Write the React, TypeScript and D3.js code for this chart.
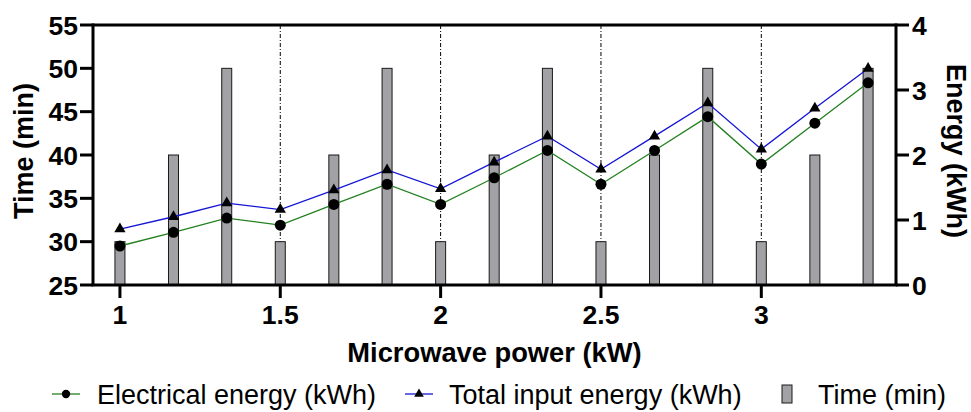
import React from "react";
import * as d3 from "d3";

// Microwave power levels (kW)
const power = [1, 1.167, 1.333, 1.5, 1.667, 1.833, 2, 2.167, 2.333, 2.5, 2.667, 2.833, 3, 3.167, 3.333];
// Processing time (min)
const timeMin = [30, 40, 50, 30, 40, 50, 30, 40, 50, 30, 40, 50, 30, 40, 50];
// Electrical energy (kWh)
const electrical = [0.6, 0.81, 1.03, 0.92, 1.24, 1.55, 1.24, 1.65, 2.07, 1.55, 2.07, 2.59, 1.86, 2.49, 3.11];
// Total input energy (kWh)
const totalInput = [0.86, 1.05, 1.26, 1.16, 1.46, 1.77, 1.48, 1.89, 2.29, 1.78, 2.29, 2.8, 2.09, 2.72, 3.33];

const xTicks = [1, 1.5, 2, 2.5, 3];
const gridX = [1.5, 2, 2.5, 3];
const timeTicks = [25, 30, 35, 40, 45, 50, 55];
const energyTicks = [0, 1, 2, 3, 4];

const W = 971;
const H = 412;
const M = { left: 93, right: 896, top: 25, bottom: 285 };
const FONT = "'Liberation Sans', Arial, Helvetica, sans-serif";

const BAR_FILL = "#a2a2a6";
const GREEN = "#23801f";
const BLUE = "#1515d6";

export default function App() {
  const x = d3.scaleLinear().domain([0.916, 3.42]).range([M.left, M.right]);
  const yT = d3.scaleLinear().domain([25, 55]).range([M.bottom, M.top]);
  const yE = d3.scaleLinear().domain([0, 4]).range([M.bottom, M.top]);

  const lineGen = (vals: number[]) =>
    d3
      .line<number>()
      .x((_, i) => x(power[i]))
      .y((v) => yE(v))(vals) as string;

  const circle = d3.symbol(d3.symbolCircle, 95)() as string;
  const tri = d3.symbol(d3.symbolTriangle, 55)() as string;
  const circleSm = d3.symbol(d3.symbolCircle, 55)() as string;
  const triSm = d3.symbol(d3.symbolTriangle, 40)() as string;

  const barW = 10;
  const legY = 394;

  return (
    <svg
      width={W}
      height={H}
      style={{ position: "absolute", left: 0, top: 0, background: "#fff" }}
      fontFamily={FONT}
    >
      {/* vertical reference lines */}
      {gridX.map((g) => (
        <line
          key={"g" + g}
          x1={x(g)}
          x2={x(g)}
          y1={M.top}
          y2={M.bottom}
          stroke="#000"
          strokeWidth={1}
          strokeDasharray="4,2,1,2"
        />
      ))}

      {/* time bars */}
      {timeMin.map((t, i) => (
        <rect
          key={"b" + i}
          x={x(power[i]) - barW / 2}
          y={yT(t)}
          width={barW}
          height={yT(25) - yT(t)}
          fill={BAR_FILL}
          stroke="#1a1a1a"
          strokeWidth={1}
        />
      ))}

      {/* energy lines */}
      <path d={lineGen(electrical)} fill="none" stroke={GREEN} strokeWidth={1.3} />
      <path d={lineGen(totalInput)} fill="none" stroke={BLUE} strokeWidth={1.3} />
      {electrical.map((v, i) => (
        <path key={"c" + i} d={circle} transform={`translate(${x(power[i])},${yE(v)})`} fill="#000" />
      ))}
      {totalInput.map((v, i) => (
        <path key={"t" + i} d={tri} transform={`translate(${x(power[i])},${yE(v)})`} fill="#000" />
      ))}

      {/* frame */}
      <line x1={M.left} x2={M.right} y1={M.top} y2={M.top} stroke="#000" strokeWidth={3} />
      <line x1={M.left - 1.5} x2={M.right + 1.5} y1={M.bottom} y2={M.bottom} stroke="#000" strokeWidth={3} />
      <line x1={M.left} x2={M.left} y1={M.top - 1.5} y2={M.bottom} stroke="#000" strokeWidth={3} />
      <line x1={M.right} x2={M.right} y1={M.top - 1.5} y2={M.bottom} stroke="#000" strokeWidth={3} />

      {/* left axis */}
      {timeTicks.map((t) => (
        <g key={"lt" + t}>
          <line x1={M.left - 13} x2={M.left} y1={yT(t)} y2={yT(t)} stroke="#000" strokeWidth={3} />
          <text x={M.left - 15} y={yT(t)} dy="0.36em" textAnchor="end" fontSize={26.5} fontWeight="bold">
            {t}
          </text>
        </g>
      ))}

      {/* right axis */}
      {energyTicks.map((t) => (
        <g key={"rt" + t}>
          <line x1={M.right} x2={M.right + 13} y1={yE(t)} y2={yE(t)} stroke="#000" strokeWidth={3} />
          <text x={M.right + 16} y={yE(t)} dy="0.36em" textAnchor="start" fontSize={26.5} fontWeight="bold">
            {t}
          </text>
        </g>
      ))}

      {/* bottom axis */}
      {xTicks.map((t) => (
        <g key={"xt" + t}>
          <line x1={x(t)} x2={x(t)} y1={M.bottom} y2={M.bottom + 13} stroke="#000" strokeWidth={3} />
          <text x={x(t)} y={M.bottom + 39} textAnchor="middle" fontSize={26.5} fontWeight="bold">
            {t}
          </text>
        </g>
      ))}

      {/* axis titles */}
      <text x={(M.left + M.right) / 2} y={362} textAnchor="middle" fontSize={27.3} fontWeight="bold">
        Microwave power (kW)
      </text>
      <text
        transform={`translate(33,${(M.top + M.bottom) / 2 - 4}) rotate(-90)`}
        textAnchor="middle"
        fontSize={27}
        fontWeight="bold"
      >
        Time (min)
      </text>
      <text
        transform={`translate(947,${(M.top + M.bottom) / 2 - 4}) rotate(90)`}
        textAnchor="middle"
        fontSize={27}
        fontWeight="bold"
      >
        Energy (kWh)
      </text>

      {/* legend */}
      <g fontSize={27}>
        <line x1={52} x2={80} y1={legY} y2={legY} stroke={GREEN} strokeWidth={1.3} />
        <path d={circleSm} transform={`translate(66,${legY})`} fill="#000" />
        <text x={97} y={legY} dy="0.36em">
          Electrical energy (kWh)
        </text>

        <line x1={405} x2={433} y1={legY} y2={legY} stroke={BLUE} strokeWidth={1.3} />
        <path d={triSm} transform={`translate(419,${legY})`} fill="#000" />
        <text x={449} y={legY} dy="0.36em">
          Total input energy (kWh)
        </text>

        <rect x={782} y={legY - 9} width={10} height={18} fill={BAR_FILL} stroke="#1a1a1a" strokeWidth={1} />
        <text x={818} y={legY} dy="0.36em">
          Time (min)
        </text>
      </g>
    </svg>
  );
}
